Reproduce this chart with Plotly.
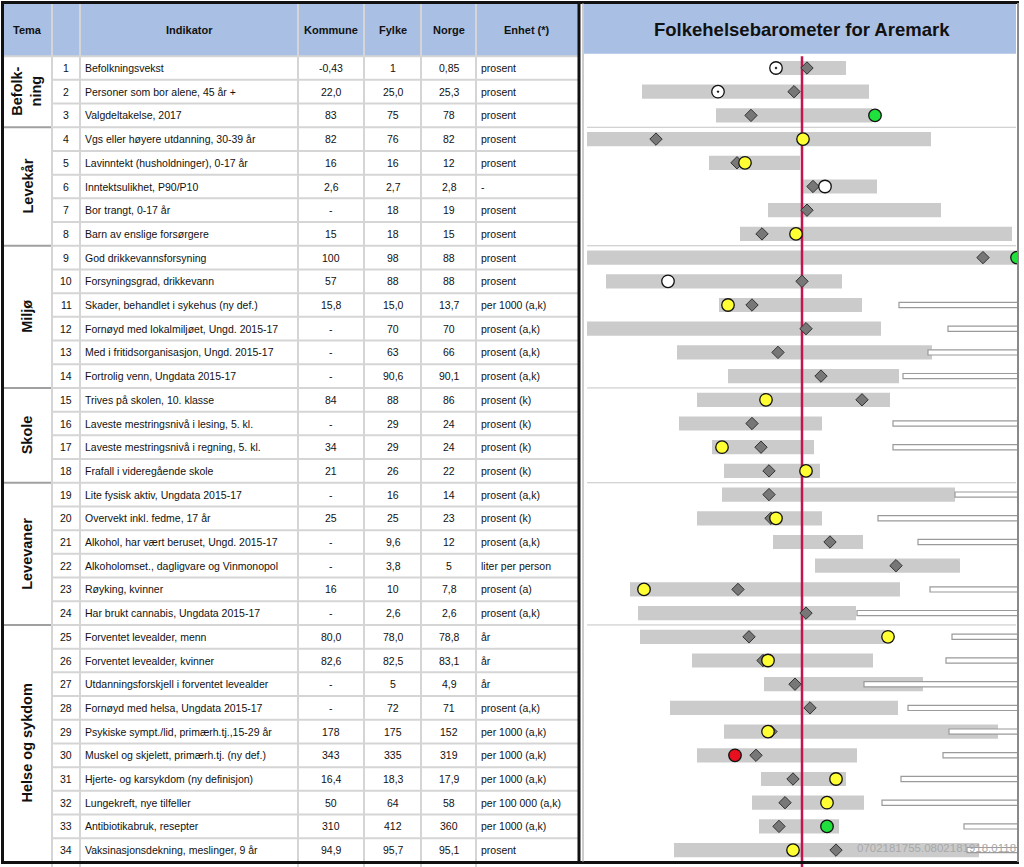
import plotly.graph_objects as go

W, H = 1024, 867

# ---------------- data ----------------
tema_navn = ["Befolk-<br>ning", "Levekår", "Miljø", "Skole", "Levevaner", "Helse og sykdom"]
tema_fra = [1, 4, 9, 15, 19, 25]
tema_til = [3, 8, 14, 18, 24, 34]

nr = list(range(1, 35))
indikator = [
    "Befolkningsvekst", "Personer som bor alene, 45 år +", "Valgdeltakelse, 2017",
    "Vgs eller høyere utdanning, 30-39 år", "Lavinntekt (husholdninger), 0-17 år",
    "Inntektsulikhet, P90/P10", "Bor trangt, 0-17 år", "Barn av enslige forsørgere",
    "God drikkevannsforsyning", "Forsyningsgrad, drikkevann",
    "Skader, behandlet i sykehus (ny def.)", "Fornøyd med lokalmiljøet, Ungd. 2015-17",
    "Med i fritidsorganisasjon, Ungd. 2015-17", "Fortrolig venn, Ungdata 2015-17",
    "Trives på skolen, 10. klasse", "Laveste mestringsnivå i lesing, 5. kl.",
    "Laveste mestringsnivå i regning, 5. kl.", "Frafall i videregående skole",
    "Lite fysisk aktiv, Ungdata 2015-17", "Overvekt inkl. fedme, 17 år",
    "Alkohol, har vært beruset, Ungd. 2015-17", "Alkoholomset., dagligvare og Vinmonopol",
    "Røyking, kvinner", "Har brukt cannabis, Ungdata 2015-17",
    "Forventet levealder, menn", "Forventet levealder, kvinner",
    "Utdanningsforskjell i forventet levealder", "Fornøyd med helsa, Ungdata 2015-17",
    "Psykiske sympt./lid, primærh.tj.,15-29 år", "Muskel og skjelett, primærh.tj. (ny def.)",
    "Hjerte- og karsykdom (ny definisjon)", "Lungekreft, nye tilfeller",
    "Antibiotikabruk, resepter", "Vaksinasjonsdekning, meslinger, 9 år",
]
kommune = ["-0,43", "22,0", "83", "82", "16", "2,6", "-", "15", "100", "57", "15,8", "-", "-", "-",
           "84", "-", "34", "21", "-", "25", "-", "-", "16", "-",
           "80,0", "82,6", "-", "-", "178", "343", "16,4", "50", "310", "94,9"]
fylke = ["1", "25,0", "75", "76", "16", "2,7", "18", "18", "98", "88", "15,0", "70", "63", "90,6",
         "88", "29", "29", "26", "16", "25", "9,6", "3,8", "10", "2,6",
         "78,0", "82,5", "5", "72", "175", "335", "18,3", "64", "412", "95,7"]
norge = ["0,85", "25,3", "78", "82", "12", "2,8", "19", "15", "88", "88", "13,7", "70", "66", "90,1",
         "86", "24", "24", "22", "14", "23", "12", "5", "7,8", "2,6",
         "78,8", "83,1", "4,9", "71", "152", "319", "17,9", "58", "360", "95,1"]
enhet = ["prosent", "prosent", "prosent", "prosent", "prosent", "-", "prosent", "prosent",
         "prosent", "prosent", "per 1000 (a,k)", "prosent (a,k)", "prosent (a,k)", "prosent (a,k)",
         "prosent (k)", "prosent (k)", "prosent (k)", "prosent (k)",
         "prosent (a,k)", "prosent (k)", "prosent (a,k)", "liter per person", "prosent (a)", "prosent (a,k)",
         "år", "år", "år", "prosent (a,k)", "per 1000 (a,k)", "per 1000 (a,k)", "per 1000 (a,k)",
         "per 100 000 (a,k)", "per 1000 (a,k)", "prosent"]

# barometer (standardised scale, Norway = 0)
spenn_fra = [-2.2, -16.0, -8.6, -21.5, -9.3, -0.1, -3.4, -6.2, -21.5, -19.6, -8.3, -21.5, -12.5, -7.4,
             -10.5, -12.3, -9.0, -7.8, -8.0, -10.5, -2.9, 1.3, -17.2, -16.4,
             -16.2, -11.0, -3.8, -13.2, -7.8, -10.5, -4.1, -5.0, -4.3, -12.8]
spenn_til = [4.4, 6.7, 7.0, 12.9, -0.2, 7.5, 13.9, 21.0, 21.4, 4.0, 6.0, 7.9, 13.0, 9.7,
             8.8, 2.0, 1.2, 1.8, 15.3, 2.0, 6.1, 15.8, 9.8, 5.4,
             8.3, 7.1, 12.1, 9.6, 19.6, 5.5, 4.4, 6.2, 3.7, 17.7]
fylke_pos = [0.5, -0.8, -5.1, -14.6, -6.5, 1.1, 0.5, -4.0, 18.1, 0.0, -5.0, 0.4, -2.4, 1.9,
             6.0, -5.0, -4.1, -3.3, -3.3, -3.1, 2.8, 9.4, -6.4, 0.4,
             -5.3, -3.9, -0.7, 0.8, -3.1, -4.6, -0.9, -1.7, -2.3, 3.4]
kommune_pos = [-2.6, -8.4, 7.3, 0.1, -5.7, 2.3, None, -0.6, 21.5, -13.4, -7.4, None, None, None,
               -3.6, None, -8.0, 0.4, None, -2.6, None, None, -15.8, None,
               8.6, -3.4, None, None, -3.4, -6.7, 3.4, 2.5, 2.5, -0.9]
kommune_vurdering = ["D", "D", "G", "Y", "Y", "W", None, "Y", "G", "W", "Y", None, None, None,
                     "Y", None, "Y", "Y", None, "Y", None, None, "Y", None,
                     "Y", "Y", None, None, "Y", "R", "Y", "Y", "G", "Y"]
hvit_fra = [None, None, None, None, None, None, None, None, None, None, 9.7, 14.6, 12.6, 10.1,
            None, 9.1, 9.1, None, 15.3, 7.6, 11.6, None, 12.8, 5.5,
            15.0, 14.4, 6.2, 10.6, 14.7, 14.1, 9.9, 8.0, 16.2, 16.5]

# ---------------- geometry / style ----------------
FONT = "Arial, Liberation Sans, sans-serif"
X2_MIN, X2_MAX = -21.9, 21.6
Y_BOT, Y_TOP = 34.713, -1.869
HDR_TOP, HDR_BOT = -1.742, 0.5
COL_EDGES = [52, 80, 298, 364, 421, 476]
GRID = "#d5d5d5"
HDR_BLUE = "#a9c0e4"


def px(x):
    return x / W


def py(y):
    return 1 - y / H


fig = go.Figure()

# gray ranges
fig.add_trace(go.Bar(
    y=nr, x=[b - a for a, b in zip(spenn_fra, spenn_til)], base=spenn_fra,
    orientation="h", width=0.6, marker=dict(color="#cbcbcb", line=dict(width=0)),
    xaxis="x2", yaxis="y", hoverinfo="skip"))

# hollow bars
hv_y = [n for n, h in zip(nr, hvit_fra) if h is not None]
hv_b = [h for h in hvit_fra if h is not None]
fig.add_trace(go.Bar(
    y=hv_y, x=[X2_MAX + 5 - b for b in hv_b], base=hv_b,
    orientation="h", width=0.22, marker=dict(color="white", line=dict(color="#9a9a9a", width=1.2)),
    xaxis="x2", yaxis="y", hoverinfo="skip"))

# Norway reference line
fig.add_trace(go.Scatter(
    x=[0, 0], y=[HDR_BOT, Y_BOT], mode="lines", line=dict(color="#c4164e", width=2.5),
    xaxis="x2", yaxis="y", hoverinfo="skip"))

# fylke diamonds
fig.add_trace(go.Scatter(
    x=fylke_pos, y=nr, mode="markers",
    marker=dict(symbol="diamond", size=9.5, color="#777777", line=dict(color="#333333", width=1)),
    xaxis="x2", yaxis="y", hoverinfo="skip"))

# kommune circles
farge = {"G": "#1fe03c", "R": "#e8101e", "Y": "#ffff33", "W": "#ffffff", "D": "#ffffff"}
for kode in ["W", "D", "Y", "G", "R"]:
    xs = [k for k, v in zip(kommune_pos, kommune_vurdering) if v == kode]
    ys = [n for n, v in zip(nr, kommune_vurdering) if v == kode]
    if not xs:
        continue
    fig.add_trace(go.Scatter(
        x=xs, y=ys, mode="markers",
        marker=dict(symbol="circle-dot" if kode == "D" else "circle", size=12.5,
                    color=farge[kode], line=dict(color="#111111", width=1.3)),
        xaxis="x2", yaxis="y", hoverinfo="skip"))

shapes = []
# table header background
shapes.append(dict(type="rect", xref="x", yref="y", x0=3, x1=578, y0=HDR_TOP, y1=HDR_BOT,
                   fillcolor=HDR_BLUE, line=dict(width=0), layer="below"))
# chart header background
shapes.append(dict(type="rect", xref="paper", yref="y", x0=px(584), x1=px(1016), y0=HDR_TOP, y1=HDR_BOT - 0.1,
                   fillcolor=HDR_BLUE, line=dict(width=0), layer="below"))
# horizontal grid lines of table
grupper_grense = [t + 0.5 for t in tema_til[:-1]]
for k in range(1, 34):
    yb = k + 0.5
    if yb in grupper_grense:
        shapes.append(dict(type="line", xref="x", yref="y", x0=3, x1=52, y0=yb, y1=yb,
                           line=dict(color="#a0a0a0", width=2)))
    shapes.append(dict(type="line", xref="x", yref="y", x0=52, x1=578, y0=yb, y1=yb,
                       line=dict(color=GRID, width=2)))
shapes.append(dict(type="line", xref="x", yref="y", x0=3, x1=578, y0=HDR_BOT, y1=HDR_BOT,
                   line=dict(color=GRID, width=2)))
# vertical grid lines
for xe in COL_EDGES:
    shapes.append(dict(type="line", xref="x", yref="y", x0=xe, x1=xe, y0=HDR_TOP, y1=Y_BOT,
                       line=dict(color=GRID, width=2)))
# group separators in chart
for yb in grupper_grense:
    shapes.append(dict(type="line", xref="x2", yref="y", x0=-21.5, x1=21.4, y0=yb, y1=yb,
                       line=dict(color="#c4c4c4", width=1), layer="below"))
# table outer frame
shapes.append(dict(type="rect", xref="paper", yref="paper", x0=px(2.5), x1=px(579), y0=py(2.5), y1=py(862.5),
                   line=dict(color="#111111", width=3)))
# chart frame
shapes.append(dict(type="line", xref="paper", yref="paper", x0=px(579), x1=px(1019), y0=py(2.5), y1=py(2.5),
                   line=dict(color="#111111", width=3)))
shapes.append(dict(type="line", xref="paper", yref="paper", x0=px(579), x1=px(1019), y0=py(862.5), y1=py(862.5),
                   line=dict(color="#111111", width=3)))
shapes.append(dict(type="line", xref="paper", yref="paper", x0=px(583), x1=px(583), y0=py(3), y1=py(862),
                   line=dict(color="#9a9a9a", width=1)))
shapes.append(dict(type="line", xref="paper", yref="paper", x0=px(1018), x1=px(1018), y0=py(3), y1=py(862),
                   line=dict(color="#8a8a8a", width=2)))

ann = []
hdr_y = -0.62
for txt, xc in [("Tema", 27), ("Indikator", 189), ("Kommune", 331), ("Fylke", 393),
                ("Norge", 449), ("Enhet (*)", 527)]:
    ann.append(dict(x=xc, y=hdr_y, xref="x", yref="y", text="<b>%s</b>" % txt, showarrow=False,
                    font=dict(family=FONT, size=11, color="#111111")))
ann.append(dict(x=0, y=hdr_y, xref="x2", yref="y", text="<b>Folkehelsebarometer for Aremark</b>",
                showarrow=False, font=dict(family=FONT, size=18.5, color="#111111")))

CF = dict(family=FONT, size=10.5, color="#111111")
for i in range(34):
    yy = nr[i]
    ann.append(dict(x=66, y=yy, xref="x", yref="y", text=str(nr[i]), showarrow=False, font=CF))
    ann.append(dict(x=83, y=yy, xref="x", yref="y", text=indikator[i], showarrow=False, font=CF,
                    xanchor="left"))
    ann.append(dict(x=331, y=yy, xref="x", yref="y", text=kommune[i], showarrow=False, font=CF))
    ann.append(dict(x=393, y=yy, xref="x", yref="y", text=fylke[i], showarrow=False, font=CF))
    ann.append(dict(x=449, y=yy, xref="x", yref="y", text=norge[i], showarrow=False, font=CF))
    ann.append(dict(x=479, y=yy, xref="x", yref="y", text=enhet[i], showarrow=False, font=CF,
                    xanchor="left"))

for navn, a, b in zip(tema_navn, tema_fra, tema_til):
    ann.append(dict(x=27, y=(a + b) / 2, xref="x", yref="y", text="<b>%s</b>" % navn, showarrow=False,
                    textangle=-90, font=dict(family=FONT, size=14.5, color="#111111")))

ann.append(dict(x=px(1018), y=py(856), xref="paper", yref="paper", text="0702181755.0802181918.0118",
                showarrow=False, xanchor="right", font=dict(family=FONT, size=11.5, color="#a8a8a8")))

fig.update_layout(
    width=W, height=H, margin=dict(l=0, r=0, t=0, b=0),
    paper_bgcolor="white", plot_bgcolor="rgba(0,0,0,0)",
    showlegend=False, barmode="overlay",
    xaxis=dict(domain=[0, 580 / W], range=[0, 580], visible=False, fixedrange=True),
    xaxis2=dict(domain=[583 / W, 1018 / W], range=[X2_MIN, X2_MAX], visible=False, fixedrange=True,
                anchor="y"),
    yaxis=dict(domain=[0, 1], range=[Y_BOT, Y_TOP], visible=False, fixedrange=True),
    shapes=shapes, annotations=ann,
)

fig.write_html("out.html", config={"displayModeBar": False},
               post_script="document.body.style.margin='0';document.body.style.overflow='hidden';")
